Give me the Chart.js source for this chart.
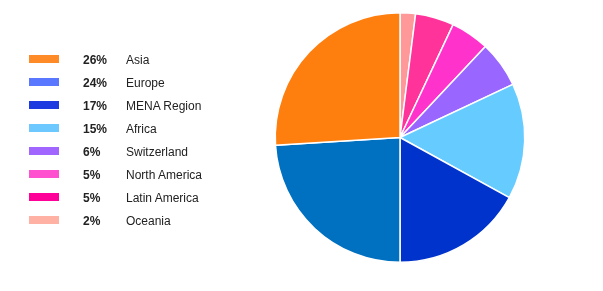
<!DOCTYPE html>
<html>
<head>
<meta charset="utf-8">
<script src="https://cdn.jsdelivr.net/npm/chart.js@4/dist/chart.umd.min.js"></script>
<style>
  html, body { margin: 0; padding: 0; background: #fff; }
  #wrap { position: relative; width: 603px; height: 291px; }
  #legend { position: absolute; left: 29px; top: 52px; font-family: "Liberation Sans", Arial, sans-serif; font-size: 12px; color: #222; white-space: nowrap; }
  .row { position: relative; height: 23px; }
  .sw { position: absolute; left: 0; top: 3px; width: 30px; height: 8px; }
  .pct { position: absolute; left: 54px; top: 0; font-weight: bold; line-height: 16px; }
  .lbl { position: absolute; left: 97px; top: 0; line-height: 16px; }
  canvas { position: absolute; left: 0; top: 0; }
</style>
</head>
<body>
<div id="wrap">
  <canvas id="pie" width="603" height="291"></canvas>
  <div id="legend"></div>
</div>
<script>
const regions = ['Asia', 'Europe', 'MENA Region', 'Africa', 'Switzerland', 'North America', 'Latin America', 'Oceania'];
const shares = [26, 24, 17, 15, 6, 5, 5, 2];
const sliceColors = ['#ff7f0e', '#0070c0', '#0033cc', '#66ccff', '#9966ff', '#ff33cc', '#ff3399', '#ff9999'];
const swatchColors = ['#ff8a28', '#5a78ff', '#1c3ae0', '#6cc8ff', '#a066ff', '#ff50d0', '#ff0099', '#ffb2a4'];

// legend (html so the bold percent column lines up)
const legend = document.getElementById('legend');
regions.forEach(function (name, i) {
    const row = document.createElement('div');
    row.className = 'row';
    row.innerHTML = '<span class="sw" style="background:' + swatchColors[i] + '"></span>' +
        '<span class="pct">' + shares[i] + '%</span>' +
        '<span class="lbl">' + name + '</span>';
    legend.appendChild(row);
});

// pie goes clockwise from the top starting with the smallest region
const ctx = document.getElementById('pie').getContext('2d');
new Chart(ctx, {
    type: 'pie',
    data: {
        labels: regions.slice().reverse(),
        datasets: [{
            data: shares.slice().reverse(),
            backgroundColor: sliceColors.slice().reverse(),
            borderColor: '#ffffff',
            borderWidth: 1.5
        }]
    },
    options: {
        responsive: false,
        animation: false,
        layout: { padding: { left: 274, top: 12, right: 77, bottom: 28 } },
        plugins: {
            legend: { display: false },
            tooltip: { enabled: false }
        }
    }
});
</script>
</body>
</html>
